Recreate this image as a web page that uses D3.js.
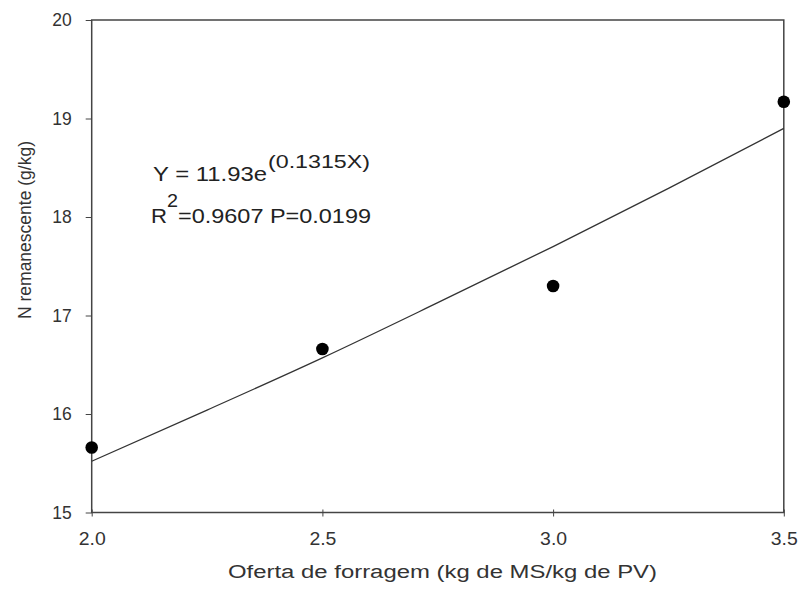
<!DOCTYPE html>
<html>
<head>
<meta charset="utf-8">
<script src="https://cdn.jsdelivr.net/npm/d3@7"></script>
<style>
  html, body { margin: 0; padding: 0; background: #fff; }
  svg { display: block; font-family: "Liberation Sans", Arial, sans-serif; }
</style>
</head>
<body>
<svg id="chart" width="801" height="594"></svg>
<script>
// Observed data points
const xValues = [2.0, 2.5, 3.0, 3.5];
const yValues = [15.66, 16.66, 17.30, 19.17];

// Fitted curve (Y = 11.93e^(0.1315X)) sampled values
const fitX = [2.0, 2.25, 2.5, 2.75, 3.0, 3.25, 3.5];
const fitY = [15.52, 16.04, 16.57, 17.13, 17.70, 18.29, 18.90];

// Axis ticks
const xTicks = [2.0, 2.5, 3.0, 3.5];
const yTicks = [15, 16, 17, 18, 19, 20];

const xLabel = "Oferta de forragem (kg de MS/kg de PV)";
const yLabel = "N remanescente (g/kg)";
const eqMain = "Y = 11.93e";
const eqExp = "(0.1315X)";
const r2Label = "R";
const r2Sup = "2";
const r2Rest = "=0.9607 P=0.0199";

const svg = d3.select("#chart");
const mLeft = 91.7, mRight = 783.8, mTop = 20, mBottom = 512.5;

const x = d3.scaleLinear().domain([2.0, 3.5]).range([mLeft, mRight]);
const y = d3.scaleLinear().domain([15, 20]).range([mBottom, mTop]);

const textColor = "#333";
const lineColor = "#444";

// Frame
svg.append("rect")
  .attr("x", mLeft).attr("y", mTop)
  .attr("width", mRight - mLeft).attr("height", mBottom - mTop)
  .attr("fill", "none").attr("stroke", lineColor).attr("stroke-width", 1.5);

// X axis
const xAxis = svg.append("g")
  .attr("transform", `translate(0,${mBottom})`)
  .call(d3.axisBottom(x).tickValues(xTicks).tickFormat(d3.format(".1f")).tickSize(4).tickPadding(16));
xAxis.select(".domain").remove();
xAxis.selectAll(".tick line").attr("stroke", lineColor).attr("y1", -3);
xAxis.selectAll(".tick text").attr("font-size", 17.5).attr("fill", textColor)
  .attr("font-family", "Liberation Sans, Arial, sans-serif")
  .attr("textLength", 27).attr("lengthAdjust", "spacingAndGlyphs");

// Y axis
const yAxis = svg.append("g")
  .attr("transform", `translate(${mLeft},0)`)
  .call(d3.axisLeft(y).tickValues(yTicks).tickFormat(d3.format("d")).tickSize(6).tickPadding(14));
yAxis.select(".domain").remove();
yAxis.selectAll(".tick line").attr("stroke", lineColor);
yAxis.selectAll(".tick text").attr("font-size", 17.5).attr("fill", textColor)
  .attr("font-family", "Liberation Sans, Arial, sans-serif");

// Fitted curve
const line = d3.line().x((d, i) => x(fitX[i])).y(d => y(d)).curve(d3.curveMonotoneX);
svg.append("path")
  .datum(fitY)
  .attr("d", line)
  .attr("fill", "none")
  .attr("stroke", "#333")
  .attr("stroke-width", 1.3);

// Points
svg.selectAll("circle.pt")
  .data(xValues)
  .join("circle")
  .attr("class", "pt")
  .attr("cx", d => x(d))
  .attr("cy", (d, i) => y(yValues[i]))
  .attr("r", 6.3)
  .attr("fill", "#000");

// Axis labels
svg.append("text")
  .attr("x", 228).attr("y", 578)
  .attr("font-size", 18)
  .attr("fill", textColor)
  .attr("textLength", 429).attr("lengthAdjust", "spacingAndGlyphs")
  .text(xLabel);

svg.append("text")
  .attr("transform", "translate(31,230) rotate(-90)")
  .attr("text-anchor", "middle")
  .attr("font-size", 17.5)
  .attr("fill", textColor)
  .text(yLabel);

// Equation annotation
function addText(str, xPos, yPos, size, len) {
  svg.append("text").attr("x", xPos).attr("y", yPos)
    .attr("font-size", size).attr("fill", "#222")
    .attr("textLength", len).attr("lengthAdjust", "spacingAndGlyphs")
    .text(str);
}
addText(eqMain, 153, 181, 20, 114);
addText(eqExp, 268, 168, 18, 102);
addText(r2Label, 151, 223, 20, 16);
addText(r2Sup, 167, 207, 18, 11);
addText(r2Rest, 178, 223, 20, 193);
</script>
</body>
</html>
